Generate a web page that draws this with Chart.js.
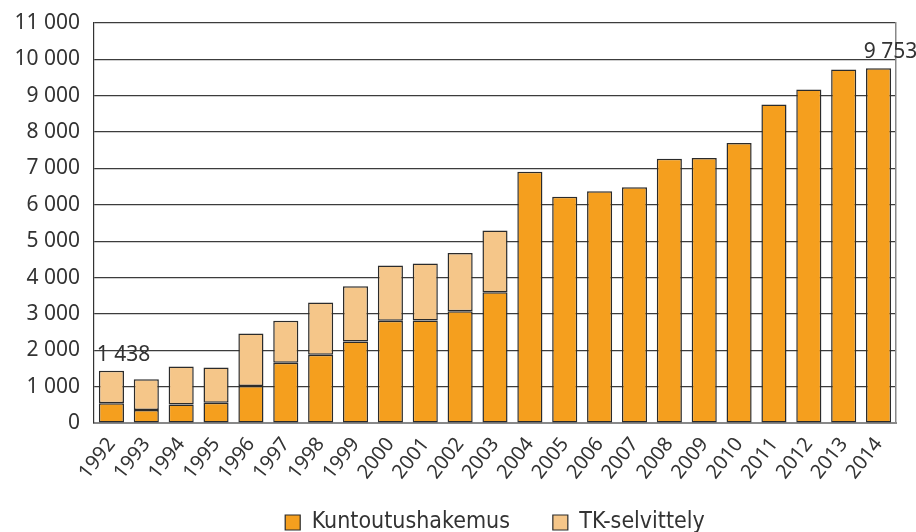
<!DOCTYPE html>
<html lang="fi">
<head>
    <meta charset="UTF-8">
    <title>Kuntoutushakemukset 1992–2014</title>
    <script src="https://cdn.jsdelivr.net/npm/chart.js"></script>
    <style>
        html, body { margin: 0; padding: 0; background: #fff; }
        .chart-container { width: 916px; height: 532px; }
    </style>
</head>
<body>
    <div class="chart-container">
        <canvas id="hakemusChart"></canvas>
    </div>

    <script>
        // Years on the x axis
        const years = ['1992', '1993', '1994', '1995', '1996', '1997', '1998', '1999', '2000', '2001', '2002', '2003',
                       '2004', '2005', '2006', '2007', '2008', '2009', '2010', '2011', '2012', '2013', '2014'];

        // Kuntoutushakemus (dark orange, bottom of stack)
        const kuntoutushakemus = [540, 357, 512, 558, 1016, 1656, 1876, 2242, 2810, 2819, 3075, 3597,
                                  6909, 6223, 6370, 6479, 7266, 7285, 7697, 8758, 9170, 9719, 9753];

        // TK-selvittely (light orange, top of stack), none after 2003
        const tkSelvittely = [898, 843, 1044, 970, 1446, 1154, 1437, 1519, 1519, 1565, 1601, 1693,
                              0, 0, 0, 0, 0, 0, 0, 0, 0, 0, 0];

        // Totals are written above these bars
        const labelledYears = ['1992', '2014'];

        const yTicks = [0, 1000, 2000, 3000, 4000, 5000, 6000, 7000, 8000, 9000, 10000, 11000];

        const textColor = '#333333';
        const edgeColor = '#2b2b2b';
        const fmt = v => String(v).replace(/\B(?=(\d{3})+(?!\d))/g, ' ');

        // Writes the stacked total above the chosen bars
        const totalLabels = {
            id: 'totalLabels',
            afterDatasetsDraw(chart) {
                const ctx = chart.ctx;
                const meta = chart.getDatasetMeta(0);
                const yScale = chart.scales.y;
                ctx.save();
                ctx.font = '21px "Noto Sans", sans-serif';
                ctx.fillStyle = textColor;
                ctx.textAlign = 'center';
                ctx.textBaseline = 'alphabetic';
                labelledYears.forEach(year => {
                    const i = years.indexOf(year);
                    const total = kuntoutushakemus[i] + tkSelvittely[i];
                    const x = meta.data[i].x + 12;
                    ctx.fillText(fmt(total), x, yScale.getPixelForValue(total) - 10);
                });
                ctx.restore();
            }
        };

        new Chart(document.getElementById('hakemusChart'), {
            type: 'bar',
            data: {
                labels: years,
                datasets: [
                    {
                        label: 'Kuntoutushakemus',
                        data: kuntoutushakemus,
                        backgroundColor: '#F59F1E',
                        borderColor: edgeColor,
                        borderWidth: 1.5,
                        borderSkipped: false,
                        barPercentage: 0.8,
                        categoryPercentage: 0.9
                    },
                    {
                        label: 'TK-selvittely',
                        data: tkSelvittely,
                        backgroundColor: '#F5C689',
                        borderColor: edgeColor,
                        borderWidth: 1.5,
                        borderSkipped: false,
                        barPercentage: 0.8,
                        categoryPercentage: 0.9
                    }
                ]
            },
            options: {
                responsive: true,
                maintainAspectRatio: false,
                animation: false,
                layout: { padding: { top: 0, right: 20, left: 0, bottom: -12 } },
                plugins: {
                    tooltip: { enabled: false },
                    legend: {
                        position: 'bottom',
                        fullSize: false,
                        labels: {
                            color: textColor,
                            font: { family: '"DejaVu Sans Condensed", "Liberation Sans Narrow", "Noto Sans", sans-serif', size: 23 },
                            boxWidth: 15,
                            boxHeight: 15,
                            padding: 10,
                            generateLabels(chart) {
                                return chart.data.datasets.map((ds, i) => ({
                                    // extra spaces widen the gap between the two items
                                    text: i === 0 ? ds.label + '     ' : ds.label,
                                    fillStyle: ds.backgroundColor,
                                    strokeStyle: edgeColor,
                                    lineWidth: 1.2,
                                    fontColor: textColor,
                                    datasetIndex: i
                                }));
                            }
                        }
                    }
                },
                scales: {
                    x: {
                        stacked: true,
                        grid: { display: false },
                        border: { color: '#888888', width: 2 },
                        ticks: {
                            color: textColor,
                            font: { family: '"Noto Sans", sans-serif', size: 20 },
                            autoSkip: false,
                            minRotation: 52,
                            maxRotation: 52,
                            padding: 2
                        },
                        afterFit(scale) { scale.height = 78; }
                    },
                    y: {
                        stacked: true,
                        min: 0,
                        max: 11000,
                        afterBuildTicks(scale) { scale.ticks = yTicks.map(v => ({ value: v })); },
                        grid: { color: '#3c3c3c', lineWidth: 1.2, drawTicks: false },
                        border: { color: '#333333', width: 1.2 },
                        ticks: {
                            color: textColor,
                            font: { family: '"Noto Sans", sans-serif', size: 21, lineHeight: 0.85 },
                            padding: 14,
                            callback: v => fmt(v)
                        },
                        afterFit(scale) { scale.width = 94; }
                    },
                    yRight: {
                        position: 'right',
                        min: 0,
                        max: 11000,
                        grid: { display: false },
                        ticks: { display: false },
                        border: { color: '#888888', width: 1.5 },
                        afterFit(scale) { scale.width = 0; }
                    }
                }
            },
            plugins: [totalLabels]
        });
    </script>
</body>
</html>
